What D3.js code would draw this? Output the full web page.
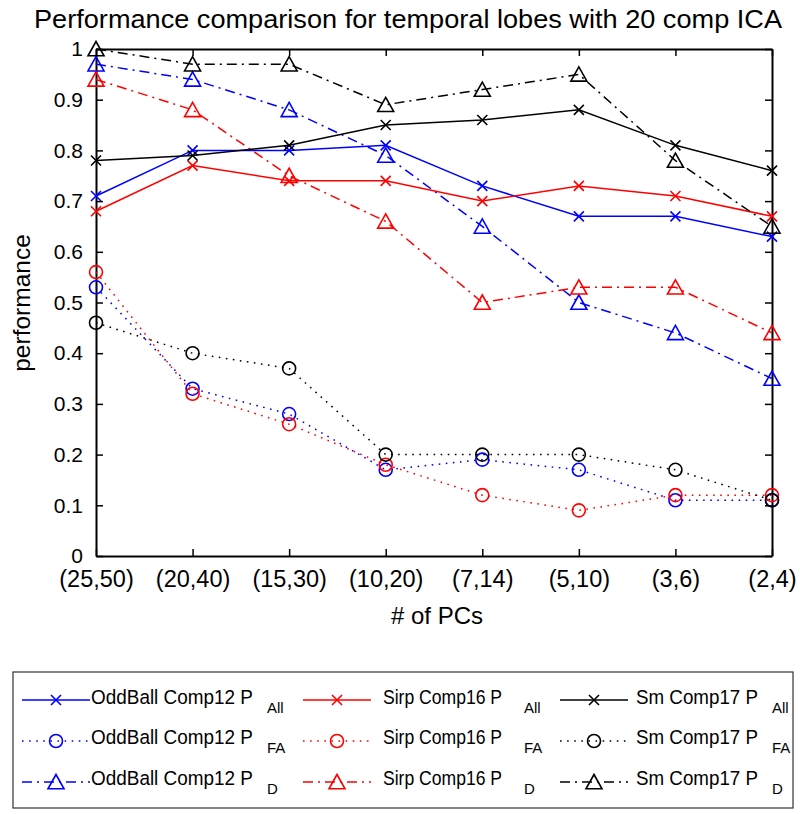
<!DOCTYPE html>
<html><head><meta charset="utf-8">
<script src="https://cdn.jsdelivr.net/npm/d3@7"></script>
<style>body{margin:0;background:#fff}svg{display:block}text{font-family:"Liberation Sans",Arial,sans-serif;fill:#000}</style>
</head><body><svg id="c" width="800" height="814"></svg>
<script>
const categories = ["(25,50)","(20,40)","(15,30)","(10,20)","(7,14)","(5,10)","(3,6)","(2,4)"];
const yTicks = [0,0.1,0.2,0.3,0.4,0.5,0.6,0.7,0.8,0.9,1];
const yTickLabels = ["0","0.1","0.2","0.3","0.4","0.5","0.6","0.7","0.8","0.9","1"];

const oddballAll = [0.71,0.80,0.80,0.81,0.73,0.67,0.67,0.63];
const oddballFA  = [0.53,0.33,0.28,0.17,0.19,0.17,0.11,0.11];
const oddballD   = [0.97,0.94,0.88,0.79,0.65,0.50,0.44,0.35];
const sirpAll    = [0.68,0.77,0.74,0.74,0.70,0.73,0.71,0.67];
const sirpFA     = [0.56,0.32,0.26,0.18,0.12,0.09,0.12,0.12];
const sirpD      = [0.94,0.88,0.75,0.66,0.50,0.53,0.53,0.44];
const smAll      = [0.78,0.79,0.81,0.85,0.86,0.88,0.81,0.76];
const smFA       = [0.46,0.40,0.37,0.20,0.20,0.20,0.17,0.11];
const smD        = [1.00,0.97,0.97,0.89,0.92,0.95,0.78,0.65];

const seriesNames = ["OddBall Comp12 P","OddBall Comp12 P","OddBall Comp12 P",
                     "Sirp Comp16 P","Sirp Comp16 P","Sirp Comp16 P",
                     "Sm Comp17 P","Sm Comp17 P","Sm Comp17 P"];
const seriesSubs = ["All","FA","D","All","FA","D","All","FA","D"];
const seriesValues = [oddballAll,oddballFA,oddballD,sirpAll,sirpFA,sirpD,smAll,smFA,smD];

const title = "Performance comparison for temporal lobes with 20 comp ICA";
const xLabel = "# of PCs";
const yLabel = "performance";

const colors = ["#0000ff","#0000ff","#0000ff","#ff0000","#ff0000","#ff0000","#000000","#000000","#000000"];
const kinds = ["all","fa","d","all","fa","d","all","fa","d"];
const dash = {all:null, fa:"1.6,5.5", d:"10,5,2,5"};

const svg = d3.select("#c");
const L=96, R=772, T=49, B=556;
const x = d3.scalePoint().domain(categories).range([L,R]);
const y = d3.scaleLinear().domain([0,1]).range([B,T]);

// title
svg.append("text").attr("x",34).attr("y",28).attr("font-size",26.5)
  .attr("textLength",748).attr("lengthAdjust","spacingAndGlyphs").text(title);

// axes frame
const g = svg.append("g");
const yAxL = d3.axisLeft(y).tickValues(yTicks).tickFormat((d,i)=>yTickLabels[i]).tickSizeInner(-7).tickSizeOuter(0).tickPadding(13);
const yAxR = d3.axisRight(y).tickValues(yTicks).tickFormat("").tickSizeInner(-7).tickSizeOuter(0);
const xAxB = d3.axisBottom(x).tickSizeInner(-7).tickSizeOuter(0).tickPadding(14);
const xAxT = d3.axisTop(x).tickFormat("").tickSizeInner(-7).tickSizeOuter(0);

function style(sel, fs){
  sel.selectAll("path").attr("stroke","#000").attr("stroke-width",2);
  sel.selectAll("line").attr("stroke","#000").attr("stroke-width",1.5);
  sel.selectAll("text").attr("font-family","Liberation Sans, Arial, sans-serif").attr("font-size",fs).attr("fill","#000");
}
style(g.append("g").attr("transform",`translate(${L},0)`).call(yAxL), 21);
style(g.append("g").attr("transform",`translate(${R},0)`).call(yAxR), 21);
style(g.append("g").attr("transform",`translate(0,${B})`).call(xAxB), 23.5);
style(g.append("g").attr("transform",`translate(0,${T})`).call(xAxT), 21);

// axis labels
svg.append("text").attr("x",437).attr("y",624).attr("text-anchor","middle").attr("font-size",24).text(xLabel);
svg.append("text").attr("transform","translate(30,303) rotate(-90)").attr("text-anchor","middle").attr("font-size",24.5).text(yLabel);

// markers
function drawMarker(sel, kind, color, cx, cy, scale){
  const s = scale||1;
  if(kind==="all"){
    const h=5*s;
    sel.append("path").attr("d",`M${cx-h},${cy-h}L${cx+h},${cy+h}M${cx-h},${cy+h}L${cx+h},${cy-h}`)
      .attr("stroke",color).attr("stroke-width",1.6).attr("fill","none");
  } else if(kind==="fa"){
    sel.append("circle").attr("cx",cx).attr("cy",cy).attr("r",6.5*s)
      .attr("stroke",color).attr("stroke-width",1.6).attr("fill","none");
  } else {
    const w=8*s, hh=7.5*s;
    sel.append("path").attr("d",`M${cx},${cy-hh}L${cx+w},${cy+hh*0.9}L${cx-w},${cy+hh*0.9}Z`)
      .attr("stroke",color).attr("stroke-width",1.6).attr("fill","none");
  }
}

const line = d3.line().x((d,i)=>x(categories[i])).y(d=>y(d));
const plot = svg.append("g");
seriesValues.forEach((vals,k)=>{
  const p = plot.append("path").attr("d",line(vals)).attr("fill","none")
    .attr("stroke",colors[k]).attr("stroke-width",1.5);
  if(dash[kinds[k]]) p.attr("stroke-dasharray",dash[kinds[k]]);
  vals.forEach((v,i)=>drawMarker(plot,kinds[k],colors[k],x(categories[i]),y(v)));
});

// legend
const lg = svg.append("g");
lg.append("rect").attr("x",13).attr("y",672).attr("width",780).attr("height",136)
  .attr("fill","#fff").attr("stroke","#333").attr("stroke-width",1.2);
const colX = [22,303,560];
const textX = [91,383,636];
const textW = [162,119,122];
const subX = [267,524,772];
const rowY = [700,741,782];
const rowText = [704,744,785];
seriesValues.forEach((vals,k)=>{
  const c = Math.floor(k/3), r = k%3;
  const x0 = colX[c], x1 = x0+68, cy = rowY[r];
  const ln = lg.append("line").attr("x1",x0).attr("x2",x1).attr("y1",cy).attr("y2",cy)
    .attr("stroke",colors[k]).attr("stroke-width",1.5);
  if(dash[kinds[k]]) ln.attr("stroke-dasharray",dash[kinds[k]]);
  drawMarker(lg,kinds[k],colors[k],(x0+x1)/2,cy,1);
  lg.append("text").attr("x",textX[c]).attr("y",rowText[r]).attr("font-size",20.5)
    .attr("textLength",textW[c]).attr("lengthAdjust","spacingAndGlyphs").text(seriesNames[k]);
  lg.append("text").attr("x",subX[c]).attr("y",rowText[r]+9).attr("font-size",15).text(seriesSubs[k]);
});
</script></body></html>
